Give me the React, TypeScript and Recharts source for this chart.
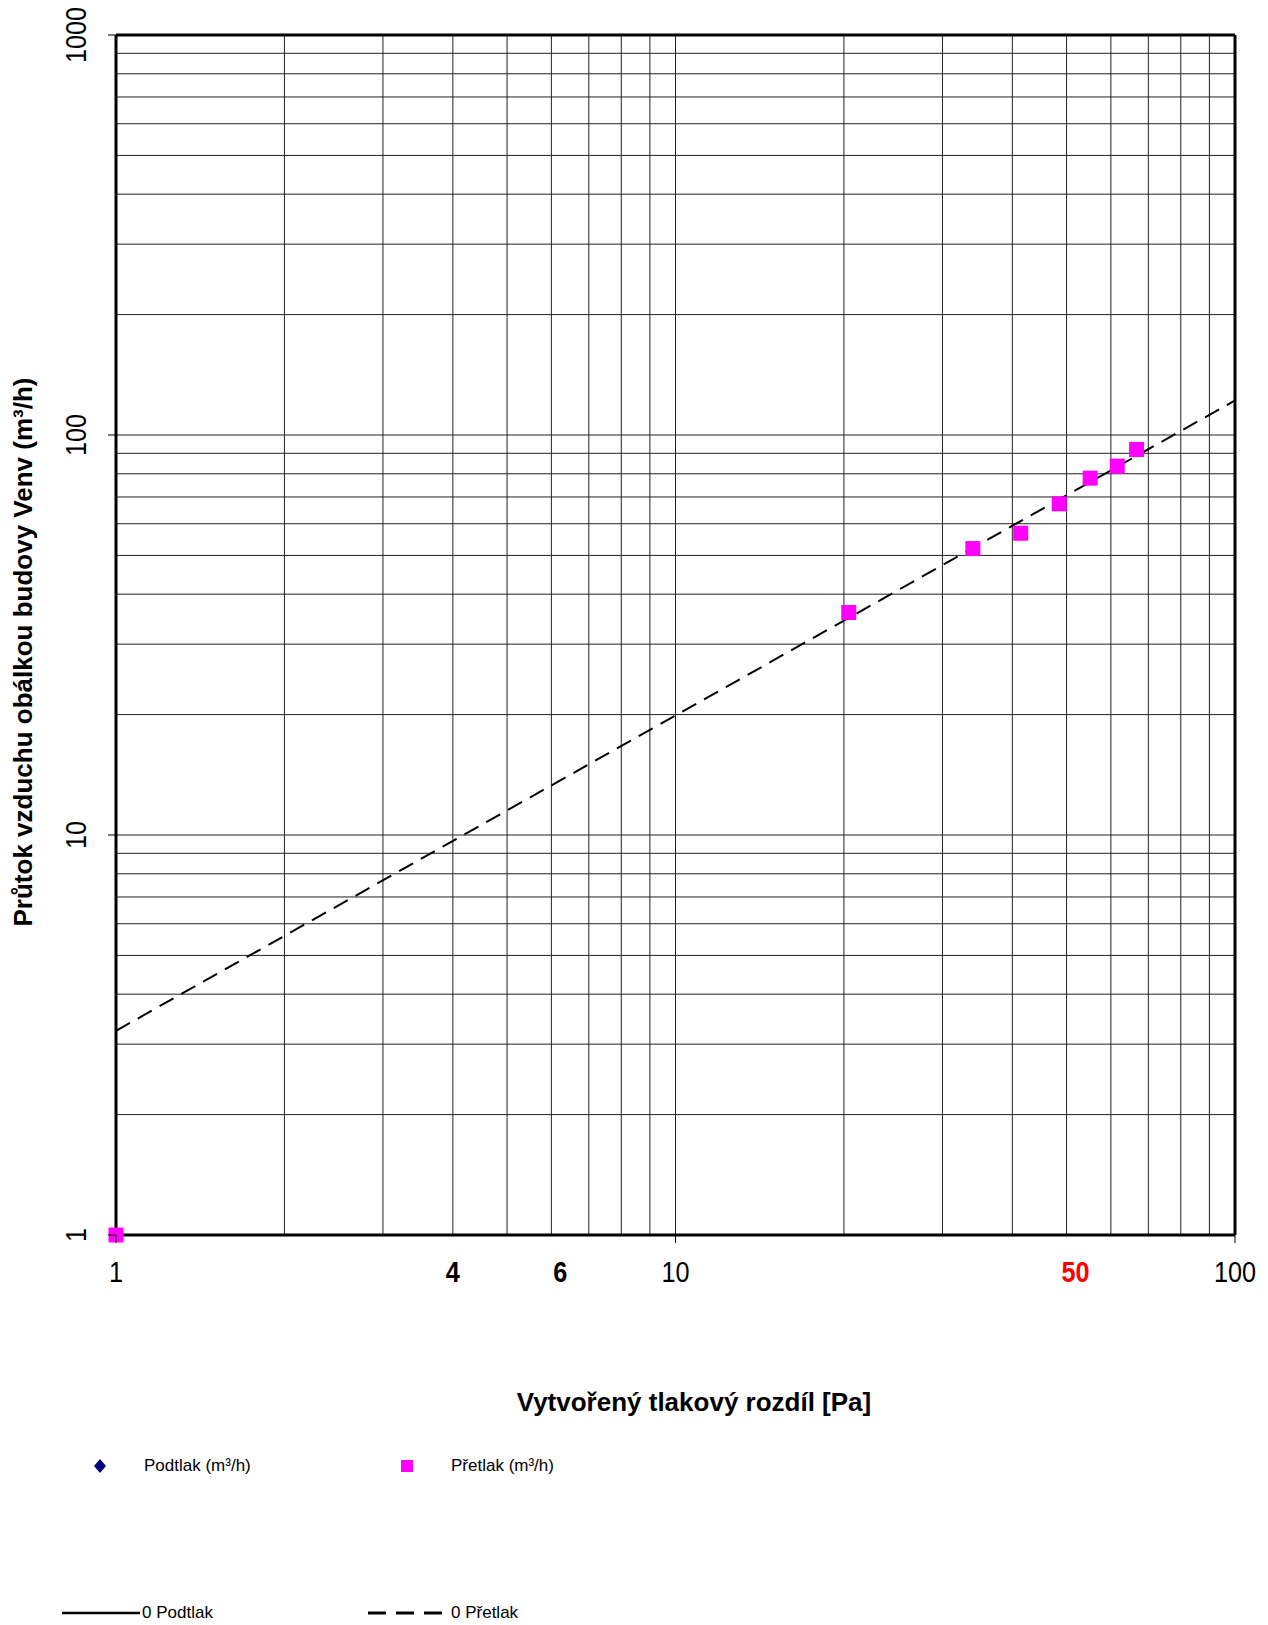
import React from "react";
import {
  ComposedChart, Line, Scatter, XAxis, YAxis, ReferenceLine,
} from "recharts";

// pressure [Pa] vs. flow [m3/h]
const podtlak = [{ p: 1, v: 1 }];
const pretlak = [
  { p: 1, v: 1 },
  { p: 20.4, v: 36 },
  { p: 34, v: 52 },
  { p: 41.4, v: 56.8 },
  { p: 48.5, v: 67.3 },
  { p: 55.1, v: 78 },
  { p: 61.6, v: 83.6 },
  { p: 66.7, v: 92 },
];
// fitted power-law line for "0 Přetlak" (straight on log-log)
const pretlakFit = [
  { p: 1, v: 3.24 },
  { p: 10, v: 19.9 },
  { p: 100, v: 122 },
];

const xTicks = [1, 4, 6, 10, 50, 100];
const xMajor = [1, 10, 100];
const boldTicks = [4, 6, 50];
const redTicks = [50];
const yTicks = [1, 10, 100, 1000];
const xGrid = [2, 3, 4, 5, 6, 7, 8, 9, 10, 20, 30, 40, 50, 60, 70, 80, 90];
const yGrid = [
  2, 3, 4, 5, 6, 7, 8, 9, 10, 20, 30, 40, 50, 60, 70, 80, 90, 100,
  200, 300, 400, 500, 600, 700, 800, 900,
];

const FONT = '"Liberation Sans", Arial, sans-serif';

// the bold labels sit a little right of their gridline in the original
function labelShift(v: number) {
  return v === 6 || v === 50 ? 9 : 0;
}

function XTick({ x, y, payload }: any) {
  const v = payload.value;
  const tx = x + labelShift(v);
  const ty = y + 37;
  return (
    <g>
      {xMajor.includes(v) && (
        <line x1={x} x2={x} y1={y} y2={y + 8} stroke="#000" strokeWidth={1} />
      )}
      <text
        transform={`translate(${tx}, ${ty}) scale(0.87, 1)`}
        textAnchor="middle" dominantBaseline="central"
        fontSize={29} fontFamily={FONT}
        fontWeight={boldTicks.includes(v) ? 700 : 400}
        fill={redTicks.includes(v) ? "#ff0000" : "#000"}
      >
        {v}
      </text>
    </g>
  );
}

function YTick({ x, y, payload }: any) {
  return (
    <g>
      <line x1={x - 8} x2={x} y1={y} y2={y} stroke="#000" strokeWidth={1} />
      <text
        transform={`translate(${x - 40}, ${y}) rotate(-90) scale(0.87, 1)`}
        textAnchor="middle" dominantBaseline="central"
        fontSize={29} fontFamily={FONT} fill="#000"
      >
        {payload.value}
      </text>
    </g>
  );
}

const square = (props: any) => (
  <rect x={props.cx - 7.5} y={props.cy - 7.5} width={15} height={15} fill="#ff00ff" />
);
const diamond = (props: any) => (
  <path
    d={`M${props.cx},${props.cy - 7} L${props.cx + 6},${props.cy} L${props.cx},${props.cy + 7} L${props.cx - 6},${props.cy} Z`}
    fill="#000080"
  />
);

const text17: React.CSSProperties = {
  position: "absolute", fontSize: 17, fontFamily: FONT, color: "#000",
  whiteSpace: "nowrap", transform: "translateY(-50%)",
};

export default function App() {
  return (
    <div style={{ position: "absolute", left: 0, top: 0, width: 1268, height: 1625, background: "#fff" }}>
      <ComposedChart
        width={1268} height={1625}
        margin={{ top: 35, right: 33, left: 0, bottom: 330 }}
      >
        <XAxis
          dataKey="p" type="number" scale="log" domain={[1, 100]}
          ticks={xTicks} tick={<XTick />} tickSize={0} tickMargin={0}
          tickLine={false} height={60}
          axisLine={{ stroke: "#000", strokeWidth: 3 }}
        />
        <YAxis
          dataKey="v" type="number" scale="log" domain={[1, 1000]}
          ticks={yTicks} tick={<YTick />} tickSize={0} tickMargin={0}
          tickLine={false} width={116}
          axisLine={{ stroke: "#000", strokeWidth: 3 }}
        />
        {xGrid.map((g) => (
          <ReferenceLine key={"x" + g} x={g} stroke="#222" strokeWidth={1} />
        ))}
        {yGrid.map((g) => (
          <ReferenceLine key={"y" + g} y={g} stroke="#222" strokeWidth={1} />
        ))}
        <ReferenceLine x={100} stroke="#000" strokeWidth={3} />
        <ReferenceLine y={1000} stroke="#000" strokeWidth={3} />
        <Line
          data={pretlakFit} dataKey="v" type="linear" stroke="#000"
          strokeWidth={2} strokeDasharray="16 9" dot={false}
          isAnimationActive={false}
        />
        <Scatter data={podtlak} dataKey="v" shape={diamond} isAnimationActive={false} />
        <Scatter data={pretlak} dataKey="v" shape={square} isAnimationActive={false} />
      </ComposedChart>

      {/* axis titles */}
      <div style={{
        position: "absolute", left: 23, top: 652, fontSize: 26, fontWeight: 700,
        fontFamily: FONT, whiteSpace: "nowrap",
        transform: "translate(-50%, -50%) rotate(-90deg)",
      }}>
        Průtok vzduchu obálkou budovy Venv (m³/h)
      </div>
      <div style={{
        position: "absolute", left: 694, top: 1402, fontSize: 26, fontWeight: 700,
        fontFamily: FONT, whiteSpace: "nowrap", transform: "translate(-50%, -50%)",
      }}>
        Vytvořený tlakový rozdíl [Pa]
      </div>

      {/* legend */}
      <svg style={{ position: "absolute", left: 0, top: 0 }} width={1268} height={1625}>
        <path d="M100,1459 L106,1466 L100,1473 L94,1466 Z" fill="#000080" />
        <rect x={401} y={1460} width={12} height={12} fill="#ff00ff" />
        <line x1={62} x2={140} y1={1613} y2={1613} stroke="#000" strokeWidth={2.5} />
        <line x1={368} x2={443} y1={1613} y2={1613} stroke="#000" strokeWidth={3} strokeDasharray="18 10" />
      </svg>
      <div style={{ ...text17, left: 144, top: 1466 }}>Podtlak (m³/h)</div>
      <div style={{ ...text17, left: 451, top: 1466 }}>Přetlak (m³/h)</div>
      <div style={{ ...text17, left: 142, top: 1613 }}>0 Podtlak</div>
      <div style={{ ...text17, left: 451, top: 1613 }}>0 Přetlak</div>
    </div>
  );
}
